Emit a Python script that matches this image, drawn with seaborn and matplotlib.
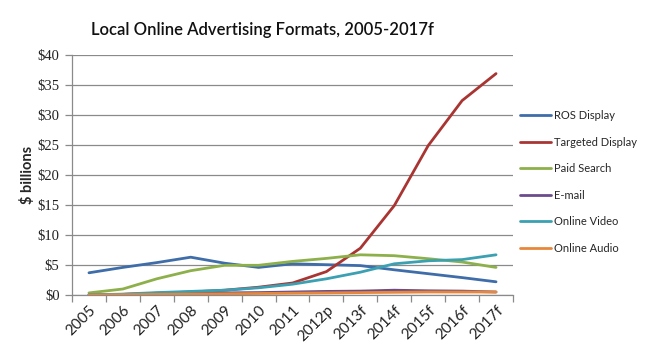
import matplotlib
matplotlib.use("Agg")
import matplotlib.pyplot as plt
import seaborn as sns
import pandas as pd
import numpy as np

years = ["2005", "2006", "2007", "2008", "2009", "2010", "2011", "2012p",
         "2013f", "2014f", "2015f", "2016f", "2017f"]
ros_display = [3.7, 4.6, 5.4, 6.3, 5.3, 4.6, 5.2, 5.05, 4.9, 4.2, 3.55, 2.9, 2.2]
targeted_display = [0.0, 0.1, 0.3, 0.5, 0.8, 1.3, 2.0, 3.9, 7.8, 14.9, 24.9, 32.4, 36.9]
paid_search = [0.35, 1.0, 2.7, 4.05, 4.95, 4.95, 5.6, 6.1, 6.7, 6.55, 6.05, 5.5, 4.6]
email = [0.0, 0.1, 0.2, 0.3, 0.35, 0.4, 0.5, 0.6, 0.65, 0.8, 0.7, 0.65, 0.5]
online_video = [0.0, 0.15, 0.4, 0.6, 0.8, 1.2, 1.8, 2.7, 3.8, 5.2, 5.7, 5.9, 6.7]
online_audio = [0.0, 0.05, 0.1, 0.15, 0.2, 0.25, 0.3, 0.35, 0.4, 0.45, 0.5, 0.5, 0.5]

series_names = ["ROS Display", "Targeted Display", "Paid Search", "E-mail",
                "Online Video", "Online Audio"]
series_values = [ros_display, targeted_display, paid_search, email,
                 online_video, online_audio]
colors = ["#3E6DA9", "#A93533", "#8DB04B", "#6A4C8C", "#3AA0B2", "#E8873A"]
y_ticks = [0, 5, 10, 15, 20, 25, 30, 35, 40]
y_tick_labels = ["$" + str(v) for v in y_ticks]

rows = []
for name, vals in zip(series_names, series_values):
    for i, v in enumerate(vals):
        rows.append({"idx": i, "value": v, "series": name})
df = pd.DataFrame(rows)

sns.set_theme(style="white")
fig = plt.figure(figsize=(6.5, 3.63), dpi=100)
ax = fig.add_axes([72/650, 1-295/363, (513-72)/650, (295-55)/363])

sns.lineplot(data=df, x="idx", y="value", hue="series", hue_order=series_names,
             palette=colors, linewidth=2.0, ax=ax, legend=True)

ax.set_xlim(-0.5, len(years) - 0.5)
ax.set_ylim(0, 40)
ax.set_yticks(y_ticks)
ax.set_yticklabels(y_tick_labels, family="Liberation Serif", fontsize=10.5,
                   color="#222222")
ax.yaxis.grid(True, color="#8a8a8a", linewidth=0.9)
ax.xaxis.grid(False)
ax.set_axisbelow(True)
for s in ["top", "right"]:
    ax.spines[s].set_visible(False)
for s in ["left", "bottom"]:
    ax.spines[s].set_color("#8a8a8a")
    ax.spines[s].set_linewidth(0.9)

ax.set_xticks(range(len(years)))
ax.set_xticklabels(years, rotation=45, ha="right", rotation_mode="anchor",
                   family="Lato", fontsize=11, color="#222222")
ax.set_xticks(np.arange(-0.5, len(years), 1.0), minor=True)
ax.tick_params(axis="x", which="major", length=0, pad=6)
ax.tick_params(axis="x", which="minor", length=5, color="#8a8a8a", width=0.9,
               direction="out", bottom=True)
ax.tick_params(axis="y", length=5, color="#8a8a8a", width=0.9, direction="out",
               left=True, pad=4)
ax.set_xlabel("")
ax.set_ylabel("$ billions", family="Lato", fontweight="bold", fontsize=10.5,
              labelpad=2)

handles, labels = ax.get_legend_handles_labels()
ax.legend(handles, labels, loc="upper left", bbox_to_anchor=(520/650, 1-110/363),
          bbox_transform=fig.transFigure, frameon=False,
          prop={"family": "Lato", "size": 8}, handlelength=2.8,
          handletextpad=0.3, labelspacing=1.4, borderpad=0, borderaxespad=0)

fig.text(262/650, 1-30/363, "Local Online Advertising Formats, 2005-2017f",
         ha="center", va="center", family="Lato", fontsize=12,
         fontweight="semibold", color="#111111")

fig.savefig("out.png", dpi=100)
